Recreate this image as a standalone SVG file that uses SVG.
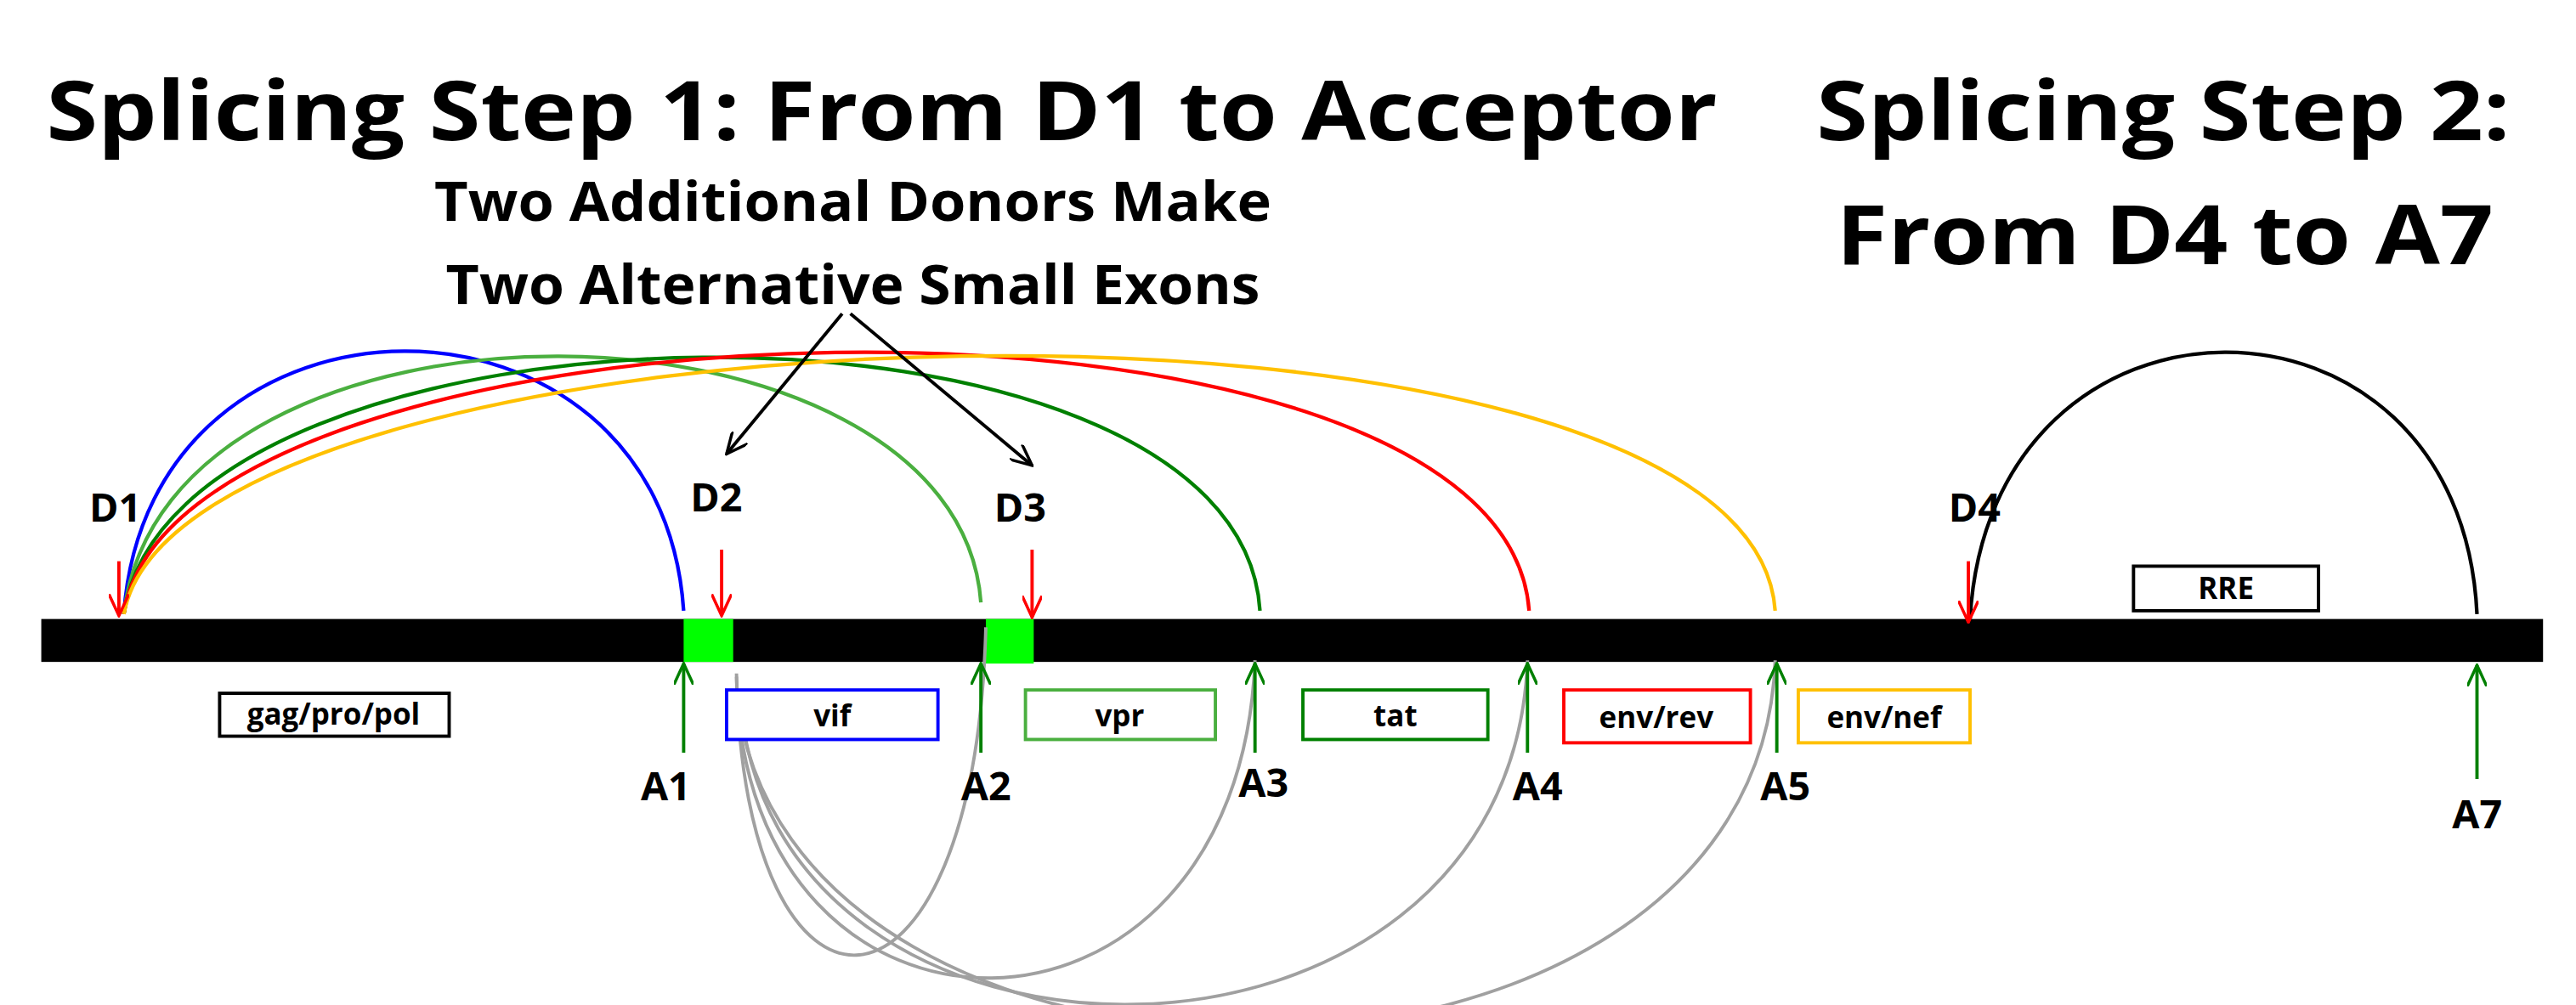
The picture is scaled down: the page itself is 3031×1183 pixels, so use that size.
<svg xmlns="http://www.w3.org/2000/svg" width="3031" height="1183" viewBox="0 0 3031 1183">
<defs>
<marker id="ar" viewBox="0 0 14 12" refX="13" refY="6" markerWidth="14" markerHeight="12" markerUnits="userSpaceOnUse" orient="auto"><path d="M0,0 L13,6 L0,12" fill="none" stroke="context-stroke" stroke-width="1.8"/></marker>
<style>
text{font-family:"Open Sans","Liberation Sans",sans-serif;font-weight:bold;fill:#000}
.t1{font-size:50px}
.t2{font-size:33px}
.lb{font-size:24px}
.bx{font-size:18px;text-anchor:middle}
.arc{fill:none;stroke-width:2.2}
.box{fill:#fff;stroke-width:2}
.don{stroke:#f00;stroke-width:2;fill:none}
.acc{stroke:#008000;stroke-width:2;fill:none}
.gr{fill:none;stroke:#a0a0a0;stroke-width:2}
</style>
</defs>
<rect width="3031" height="1183" fill="#fff"/>
<g transform="scale(1.943)">
<g id="titles">
<text class="t1" x="28" y="85" textLength="1012" lengthAdjust="spacingAndGlyphs">Splicing Step 1: From D1 to Acceptor</text>
<text class="t1" x="1100" y="85" textLength="420" lengthAdjust="spacingAndGlyphs">Splicing Step 2:</text>
<text class="t1" x="1112" y="160" textLength="398" lengthAdjust="spacingAndGlyphs">From D4 to A7</text>
<text class="t2" x="263" y="134" textLength="507" lengthAdjust="spacingAndGlyphs">Two Additional Donors Make</text>
<text class="t2" x="270" y="184" textLength="493" lengthAdjust="spacingAndGlyphs">Two Alternative Small Exons</text>
</g>
<g id="bar">
<rect x="25" y="375" width="1515" height="26" fill="#000"/>
<rect x="414" y="375" width="30" height="26" fill="#00ff00"/>
<rect x="597" y="375" width="29" height="27" fill="#00ff00"/>
</g>
<g id="connectors">
<path class="arc" stroke="#0000ff" d="M75,372 C90,160 400,160 414,370"/>
<path class="arc" stroke="#4aaf3f" d="M75,372 C100,160 580,170 594,365"/>
<path class="arc" stroke="#008000" d="M75,372 C105,170 750,160 763,370"/>
<path class="arc" stroke="#ff0000" d="M75,372 C105,172 910,150 926,370"/>
<path class="arc" stroke="#ffc000" d="M75,372 C110,178 1060,150 1075,370"/>
<path class="arc" stroke="#000" d="M1193,375 C1205,160 1490,160 1500,372"/>
<path class="gr" d="M446,408 C450,640 590,640 597,380"/>
<path class="gr" d="M446,410 C450,655 750,655 760,400"/>
<path class="gr" d="M448,418 C460,675 915,675 925,400"/>
<path class="gr" d="M446,418 C470,695 1065,695 1075,400"/>
<line x1="510" y1="190" x2="440" y2="275" stroke="#000" stroke-width="2" marker-end="url(#ar)"/>
<line x1="515" y1="190" x2="625" y2="282" stroke="#000" stroke-width="2" marker-end="url(#ar)"/>
<line class="don" x1="72" y1="340" x2="72" y2="373" marker-end="url(#ar)"/>
<line class="don" x1="437" y1="333" x2="437" y2="373" marker-end="url(#ar)"/>
<line class="don" x1="625" y1="333" x2="625" y2="374" marker-end="url(#ar)"/>
<line class="don" x1="1192" y1="340" x2="1192" y2="377" marker-end="url(#ar)"/>
<line class="acc" x1="414" y1="456" x2="414" y2="402" marker-end="url(#ar)"/>
<line class="acc" x1="594" y1="456" x2="594" y2="402" marker-end="url(#ar)"/>
<line class="acc" x1="760" y1="456" x2="760" y2="402" marker-end="url(#ar)"/>
<line class="acc" x1="925" y1="456" x2="925" y2="402" marker-end="url(#ar)"/>
<line class="acc" x1="1076" y1="456" x2="1076" y2="402" marker-end="url(#ar)"/>
<line class="acc" x1="1500" y1="472" x2="1500" y2="403" marker-end="url(#ar)"/>
</g>
<g id="labels">
<text class="lb" x="54" y="316">D1</text>
<text class="lb" x="418" y="310">D2</text>
<text class="lb" x="602" y="316">D3</text>
<text class="lb" x="1180" y="316">D4</text>
<text class="lb" x="388" y="485">A1</text>
<text class="lb" x="582" y="485">A2</text>
<text class="lb" x="750" y="483">A3</text>
<text class="lb" x="916" y="485">A4</text>
<text class="lb" x="1066" y="485">A5</text>
<text class="lb" x="1485" y="502">A7</text>
</g>
<g id="gag"><rect class="box" x="133" y="420" width="139" height="26" stroke="#000"/><text class="bx" x="202" y="439">gag/pro/pol</text></g>
<g id="vif"><rect class="box" x="440" y="418" width="128" height="30" stroke="#0000ff"/><text class="bx" x="504" y="440">vif</text></g>
<g id="vpr"><rect class="box" x="621" y="418" width="115" height="30" stroke="#4aaf3f"/><text class="bx" x="678" y="440">vpr</text></g>
<g id="tat"><rect class="box" x="789" y="418" width="112" height="30" stroke="#008000"/><text class="bx" x="845" y="440">tat</text></g>
<g id="envrev"><rect class="box" x="947" y="418" width="113" height="32" stroke="#ff0000"/><text class="bx" x="1003" y="441">env/rev</text></g>
<g id="envnef"><rect class="box" x="1089" y="418" width="104" height="32" stroke="#ffc000"/><text class="bx" x="1141" y="441">env/nef</text></g>
<g id="rre"><rect class="box" x="1292" y="343" width="112" height="27" stroke="#000"/><text class="bx" x="1348" y="363">RRE</text></g>
</g>
</svg>
